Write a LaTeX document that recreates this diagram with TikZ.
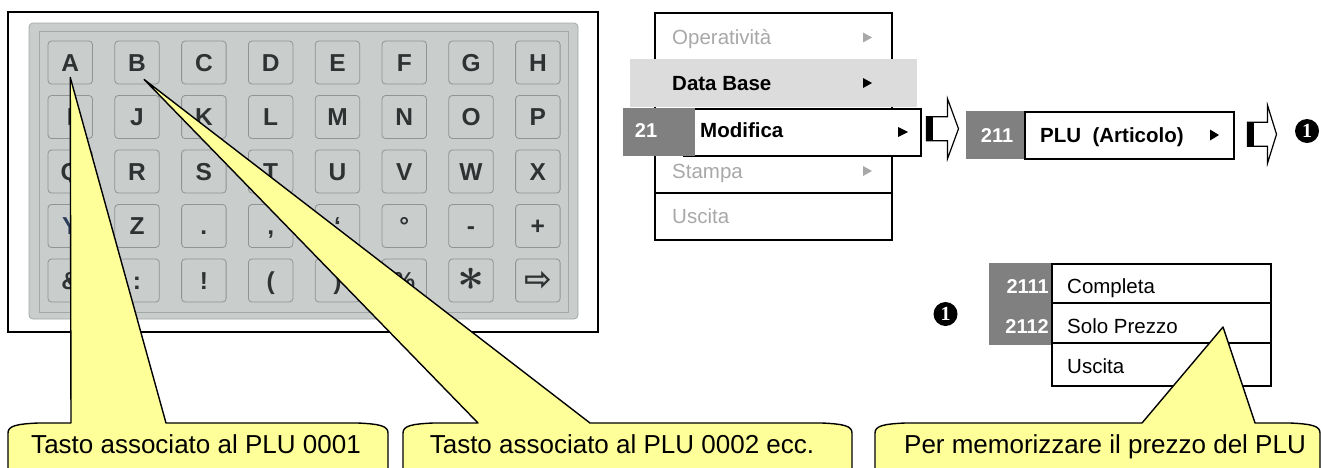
\documentclass[tikz,border=0pt]{standalone}
\usepackage{fontspec}
\setmainfont{Liberation Sans}
\newfontfamily\dejavu{DejaVu Sans}
\newfontfamily\serifb{Liberation Serif}
\usetikzlibrary{calc}
\definecolor{panel}{HTML}{C9CDCC}
\definecolor{panelline}{HTML}{A3A7A6}
\definecolor{keyline}{HTML}{909493}
\definecolor{keytext}{HTML}{2F3232}
\definecolor{ynavy}{HTML}{2C3D5A}
\definecolor{callout}{HTML}{FFFF99}
\definecolor{dbgray}{HTML}{DCDCDC}
\definecolor{numgray}{HTML}{808080}
\definecolor{dimtext}{HTML}{A8A8A8}
\newcommand\kbkey[3]{%
  \node[keybox] (key#2#1) at ({70.25+66.8*#1},{62.5+54.5*#2}) {};
  \node[keylabel] (lab#2#1) at ($(key#2#1.north)+(0,30.5)$) {#3};
}
\begin{document}
\begin{tikzpicture}[x=1pt,y=-1pt,
  keybox/.style={draw=keyline, fill=panel, rounded corners=3.5, minimum width=44.5, minimum height=43, inner sep=0, line width=0.8},
  keylabel/.style={anchor=base, text=keytext, font=\bfseries\fontsize{24.5}{24.5}\selectfont, inner sep=0},
  menutext/.style={anchor=base west, inner sep=0, font=\fontsize{20.5}{20.5}\selectfont},
  menubold/.style={menutext, font=\bfseries\fontsize{20.5}{20.5}\selectfont},
  numtext/.style={anchor=base, inner sep=0, text=white, font=\bfseries\fontsize{20}{20}\selectfont},
  callout/.style={draw=black, fill=callout, line width=1.4, line join=round},
  calltext/.style={anchor=base, inner sep=0, font=\fontsize{26}{26}\selectfont},
  blockarrow/.style={draw=black, fill=white, line width=1.2, line join=miter},
  onemark/.style={circle, fill=black, minimum size=24, inner sep=0, text=white, font=\serifb\bfseries\fontsize{20}{20}\selectfont},
  tri/.style={fill=black}
]
\useasboundingbox (0,0) rectangle (1321,467);

% ---------- keyboard ----------
\draw[line width=2.5] (8,12) rectangle (598,332);
\draw[fill=panel, draw=panelline, line width=0.8, rounded corners=4] (29,23) rectangle (578,319);
\draw[draw=panelline, line width=0.8] (39,31) rectangle (568,312);

\kbkey{0}{0}{A}\kbkey{1}{0}{B}\kbkey{2}{0}{C}\kbkey{3}{0}{D}
\kbkey{4}{0}{E}\kbkey{5}{0}{F}\kbkey{6}{0}{G}\kbkey{7}{0}{H}
\kbkey{0}{1}{I}\kbkey{1}{1}{J}\kbkey{2}{1}{K}\kbkey{3}{1}{L}
\kbkey{4}{1}{M}\kbkey{5}{1}{N}\kbkey{6}{1}{O}\kbkey{7}{1}{P}
\kbkey{0}{2}{Q}\kbkey{1}{2}{R}\kbkey{2}{2}{S}\kbkey{3}{2}{T}
\kbkey{4}{2}{U}\kbkey{5}{2}{V}\kbkey{6}{2}{W}\kbkey{7}{2}{X}
\kbkey{0}{3}{\color{ynavy}Y}\kbkey{1}{3}{Z}\kbkey{2}{3}{.}\kbkey{3}{3}{,}
\kbkey{4}{3}{‘}\kbkey{5}{3}{°}\kbkey{6}{3}{-}\kbkey{7}{3}{+}
\kbkey{0}{4}{\&}\kbkey{1}{4}{:}\kbkey{2}{4}{!}\kbkey{3}{4}{(}
\kbkey{4}{4}{)}\kbkey{5}{4}{\%}\kbkey{6}{4}{\raisebox{-1pt}{\scalebox{1.9}{\Huge\boldmath$\ast$}}}
\kbkey{7}{4}{\raisebox{-1pt}{\dejavu\fontsize{33}{33}\selectfont ⇨}}

% ---------- main menu ----------
\draw[line width=1.5] (655,13) rectangle (892,240);
\draw[line width=1.5] (655,193) -- (892,193);
\node[menutext, text=dimtext] (op) at (672,44.5) {Operatività};
\fill[dimtext] (863,32.5) -- (872,37.5) -- (863,42.5) -- cycle;
\fill[dbgray] (630,59) rectangle (917,107);
\node[menubold] (db) at (672,90) {Data Base};
\fill[tri] (863,78) -- (872,83) -- (863,88) -- cycle;
\node[menutext, text=dimtext] (st) at (672,178.5) {Stampa};
\fill[dimtext] (863,166) -- (872,171) -- (863,176) -- cycle;
\node[menutext, text=dimtext] (us) at (672,223.5) {Uscita};

\node[draw, fill=white, line width=1.5, minimum width=237, minimum height=47, anchor=north west, inner sep=0] (modbox) at (683,108) {};
\node[fill=numgray, minimum width=72, minimum height=48, anchor=north west, inner sep=0] (n21) at (623,108) {};
\node[numtext] (t21) at (646,137.5) {21};
\node[menubold] (mod) at (700,137.5) {Modifica};
\fill[tri] (898,127) -- (908,132) -- (898,137) -- cycle;

% block arrow 1
\coordinate (a1) at ($(modbox.east)+(5,-3.5)$);
\draw[blockarrow] (a1) ++(0,-12) -- ++(21,0) -- ++(0,-18) -- ++(11,30) -- ++(-11,30) -- ++(0,-18) -- ++(-21,0) -- cycle;
\fill (a1) ++(0,-12) rectangle ++(6,24);

% ---------- PLU item ----------
\node[draw, fill=white, line width=1.5, minimum width=209, minimum height=47, anchor=north west, inner sep=0] (plubox) at (1024,111) {};
\node[fill=numgray, minimum width=58, minimum height=48, anchor=north east, inner sep=0] (n211) at (1024,111) {};
\node[numtext] (t211) at (997,142.5) {211};
\node[menubold] (plu) at (1040,142.5) {PLU\ \ (Articolo)};
\fill[tri] (1210,129.5) -- (1219,135) -- (1210,140.5) -- cycle;

% block arrow 2
\coordinate (a2) at ($(plubox.east)+(13,-1)$);
\draw[blockarrow] (a2) ++(0,-12) -- ++(20,0) -- ++(0,-17) -- ++(9,29) -- ++(-9,29) -- ++(0,-17) -- ++(-20,0) -- cycle;
\fill (a2) ++(0,-12) rectangle ++(6,24);

\node[onemark] (one1) at (1307,131) {1};

% ---------- sub menu ----------
\node[draw, line width=1.5, minimum width=219, minimum height=122, anchor=north west, inner sep=0] (sub) at (1051,263) {};
\draw[line width=1.5] (1051,303) -- (1270,303);
\draw[line width=1.5] (1051,343) -- (1270,343);
\node[fill=numgray, minimum width=62, minimum height=82, anchor=north east, inner sep=0] (n2111) at (1051,263) {};
\node[numtext, anchor=base east] (t2111) at (1049,293) {2111};
\node[numtext, anchor=base east] (t2112) at (1049,333) {2112};
\node[menutext] (comp) at (1067,293) {Completa};
\node[menutext] (solo) at (1067,333) {Solo Prezzo};
\node[menutext] (usc2) at (1067,373) {Uscita};
\node[onemark] (one2) at (945.5,314) {1};

% ---------- callouts ----------
\coordinate (tipA) at ($(key00.south)+(0,-7)$);
\coordinate (tipB) at ($(key01.south)+(7,-5)$);
\coordinate (tipC) at ($(sub.north west)+(172,64)$);

\draw[callout] (8,480) -- (8,433) .. controls (8,426) and (16,424) .. (38,423)
  -- (71,423) -- (tipA) -- (166,423) -- (358,423)
  .. controls (380,424) and (388,426) .. (388,433) -- (388,480) -- cycle;
\node[calltext] (c1) at (196,453) {Tasto associato al PLU 0001};

\draw[callout] (403,480) -- (403,433) .. controls (403,426) and (411,424) .. (433,423)
  -- (478,423) -- (tipB) -- (590,423) -- (822,423)
  .. controls (844,424) and (852,426) .. (852,433) -- (852,480) -- cycle;
\node[calltext] (c2) at (622,453) {Tasto associato al PLU 0002 ecc.};

\draw[callout] (875,480) -- (875,433) .. controls (875,426) and (883,424) .. (905,423)
  -- (1142,423) -- (tipC) -- (1255,423) -- (1290,423)
  .. controls (1312,424) and (1320,426) .. (1320,433) -- (1320,480) -- cycle;
\node[calltext] (c3) at (1105,453) {Per memorizzare il prezzo del PLU};
\end{tikzpicture}
\end{document}
